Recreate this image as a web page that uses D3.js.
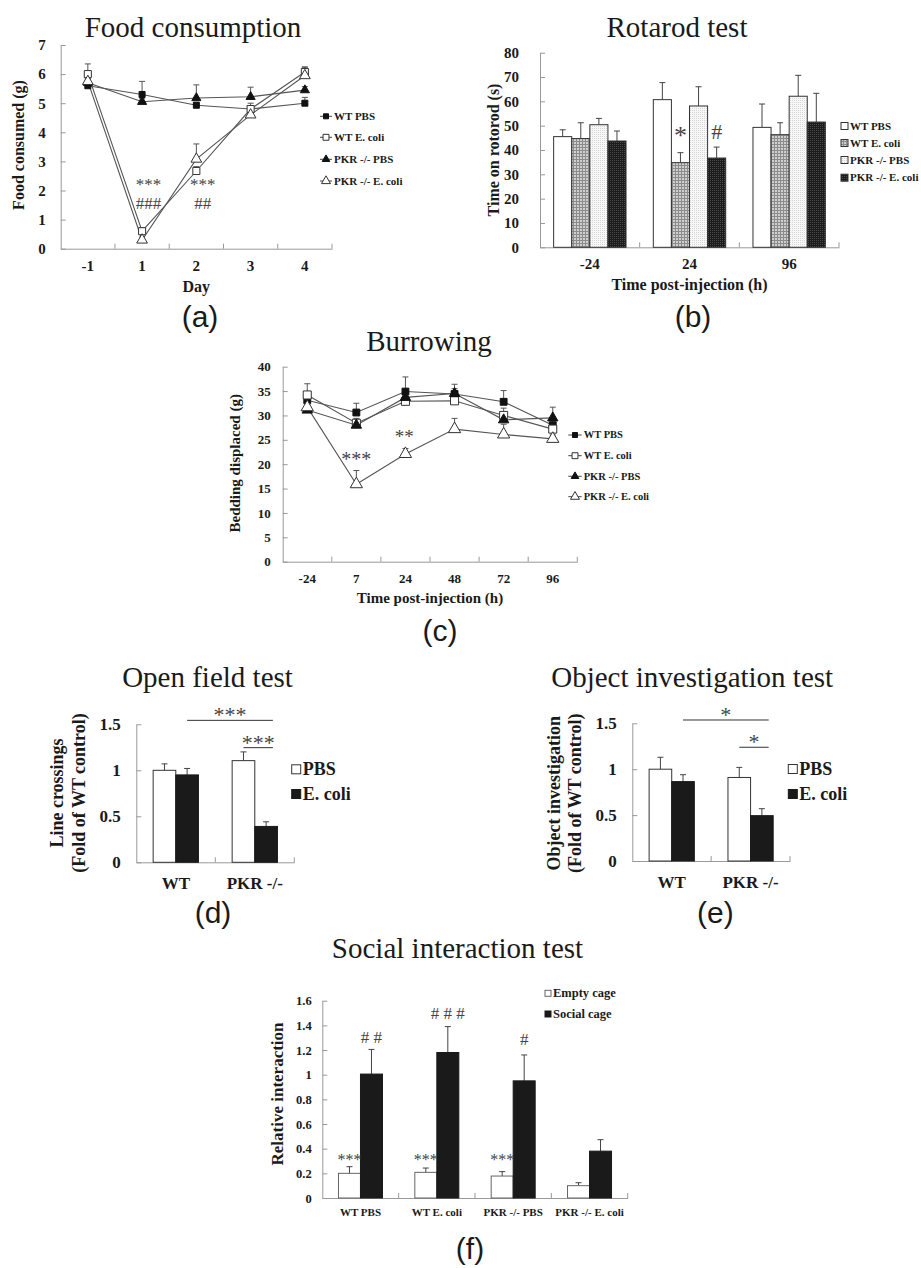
<!DOCTYPE html>
<html>
<head>
<meta charset="utf-8">
<style>
    body { margin: 0; background: #fff; }
    svg { display: block; }
    text { font-family: "Liberation Serif", "Times New Roman", serif; fill: #1a1a1a; }
    .tick text { font-weight: bold; }
    .axis path, .axis line { stroke: #999; }
    .title { font-size: 29px; }
    .lab { font-weight: bold; }
    .letter { font-family: "Liberation Sans", Arial, sans-serif; font-size: 30px; }
    .sig { fill: #444; }
</style>
</head>
<body>
<svg id="fig" width="921" height="1268"></svg>
<script src="https://cdn.jsdelivr.net/npm/d3@7"></script>
<script>
// (a) food consumption
const foodDays = ["-1", "1", "2", "3", "4"]
const foodTicks = [0, 1, 2, 3, 4, 5, 6, 7]
const foodWtPbs = [5.6, 5.3, 4.93, 4.8, 5.0]
const foodWtPbsErr = [0.08, 0.45, 0.1, 0.1, 0.2]
const foodWtEcoli = [6.0, 0.6, 2.67, 4.8, 6.07]
const foodWtEcoliErr = [0.35, 0.12, 0.15, 0.2, 0.15]
const foodPkrPbs = [5.7, 5.05, 5.18, 5.22, 5.45]
const foodPkrPbsErr = [0.1, 0.1, 0.45, 0.33, 0.12]
const foodPkrEcoli = [5.75, 0.3, 3.08, 4.6, 5.95]
const foodPkrEcoliErr = [0.1, 0.1, 0.52, 0.1, 0.3]

// (b) rotarod
const rotaTimes = ["-24", "24", "96"]
const rotaTicks = [0, 10, 20, 30, 40, 50, 60, 70, 80]
const rotaWtPbs = [45.5, 60.7, 49.3]
const rotaWtPbsErr = [2.8, 7.0, 9.6]
const rotaWtEcoli = [44.7, 34.8, 46.3]
const rotaWtEcoliErr = [6.5, 4.1, 4.9]
const rotaPkrPbs = [50.4, 58.1, 62.1]
const rotaPkrPbsErr = [2.6, 7.9, 8.6]
const rotaPkrEcoli = [43.7, 36.7, 51.5]
const rotaPkrEcoliErr = [4.1, 4.5, 11.8]

// (c) burrowing
const burTimes = ["-24", "7", "24", "48", "72", "96"]
const burTicks = [0, 5, 10, 15, 20, 25, 30, 35, 40]
const burWtPbs = [33.1, 30.6, 34.9, 34.4, 32.8, 28.0]
const burWtPbsErr = [1.5, 1.9, 3.0, 2.0, 2.3, 1.2]
const burWtEcoli = [34.2, 28.4, 32.9, 33.0, 30.0, 27.2]
const burWtEcoliErr = [2.3, 1.0, 1.0, 1.0, 1.5, 1.0]
const burPkrPbs = [31.1, 28.0, 33.7, 34.5, 29.1, 29.5]
const burPkrPbsErr = [1.0, 0.8, 1.2, 1.0, 1.0, 2.2]
const burPkrEcoli = [31.7, 15.9, 22.1, 27.2, 26.1, 25.2]
const burPkrEcoliErr = [1.0, 2.8, 1.1, 2.2, 2.1, 0.8]

// (d) open field, (e) object investigation
const genotypes = ["WT", "PKR -/-"]
const foldTicks = [0, 0.5, 1, 1.5]
const openPbs = [1.0, 1.105]
const openPbsErr = [0.07, 0.095]
const openEcoli = [0.95, 0.39]
const openEcoliErr = [0.07, 0.05]
const objPbs = [1.0, 0.91]
const objPbsErr = [0.13, 0.11]
const objEcoli = [0.865, 0.494]
const objEcoliErr = [0.075, 0.076]

// (f) social interaction
const socialGroups = ["WT PBS", "WT E. coli", "PKR -/- PBS", "PKR -/- E. coli"]
const socialTicks = [0, 0.2, 0.4, 0.6, 0.8, 1, 1.2, 1.4, 1.6]
const socialEmpty = [0.2, 0.208, 0.178, 0.1]
const socialEmptyErr = [0.054, 0.035, 0.036, 0.024]
const socialCage = [1.005, 1.18, 0.95, 0.38]
const socialCageErr = [0.2, 0.21, 0.21, 0.093]

const svg = d3.select("#fig")
svg.append("rect").attr("width", 921).attr("height", 1268).attr("fill", "#fff")

// fill patterns for the rotarod bars
const defs = svg.append("defs")
let p = defs.append("pattern").attr("id", "grid").attr("width", 3).attr("height", 3).attr("patternUnits", "userSpaceOnUse")
p.append("rect").attr("width", 3).attr("height", 3).attr("fill", "#cfcfcf")
p.append("path").attr("d", "M0,0.5H3M0.5,0V3").attr("stroke", "#8c8c8c").attr("stroke-width", 1)
p = defs.append("pattern").attr("id", "dots").attr("width", 2).attr("height", 2).attr("patternUnits", "userSpaceOnUse")
p.append("rect").attr("width", 2).attr("height", 2).attr("fill", "#f7f7f7")
p.append("rect").attr("width", 1).attr("height", 1).attr("fill", "#d6d6d6")
p = defs.append("pattern").attr("id", "dark").attr("width", 2).attr("height", 2).attr("patternUnits", "userSpaceOnUse")
p.append("rect").attr("width", 2).attr("height", 2).attr("fill", "#1c1c1c")
p.append("rect").attr("width", 1).attr("height", 1).attr("fill", "#4a4a4a")

const markers = {
    sqFill: { type: d3.symbolSquare, size: 36, fill: "#111", stroke: "#111" },
    sqOpen: { type: d3.symbolSquare, size: 50, fill: "#fff", stroke: "#333" },
    triFill: { type: d3.symbolTriangle, size: 36, fill: "#111", stroke: "#111" },
    triOpen: { type: d3.symbolTriangle, size: 50, fill: "#fff", stroke: "#333" }
}

function text(g, x, y, str, cls, size, anchor) {
    return g.append("text").attr("x", x).attr("y", y).attr("class", cls)
        .attr("font-size", size).attr("text-anchor", anchor || "middle").text(str)
}

// axes in the excel style: inside ticks, x ticks between categories
function axes(g, x, y, c) {
    let ya = g.append("g").attr("class", "axis").attr("transform", `translate(${c.xr[0]},0)`)
        .call(d3.axisLeft(y).tickValues(c.yTicks).tickFormat(d => String(d))
            .tickSizeInner(-5).tickSizeOuter(0).tickPadding(c.yPad))
    ya.attr("font-size", c.tickFs)
    let xa = g.append("g").attr("class", "axis").attr("transform", `translate(0,${c.yr[0]})`)
        .call(d3.axisBottom(x).tickSize(0).tickPadding(c.xPad))
    xa.attr("font-size", c.xFs || c.tickFs)
    xa.selectAll(".edge").data(c.cats.slice(1).map(k => x(k)).concat([c.xr[1]]))
        .join("line").attr("class", "edge")
        .attr("x1", d => d).attr("x2", d => d).attr("y1", 0).attr("y2", -5)

    text(g, c.title[0], c.title[1], c.titleText, "title", 29)
    text(g, c.letter[0], c.letter[1], c.letterText, "letter", 30)
    c.ylab.forEach(l => {
        g.append("text").attr("class", "lab").attr("font-size", c.labFs).attr("text-anchor", "middle")
            .attr("transform", `translate(${l.x},${c.ylabY}) rotate(-90)`).text(l.t)
    })
    if (c.xlab) text(g, (c.xr[0] + c.xr[1]) / 2, c.xlab[1], c.xlab[0], "lab", c.labFs)
}

function drawLines(c) {
    const g = svg.append("g")
    const x = d3.scaleBand().domain(c.cats).range(c.xr)
    const y = d3.scaleLinear().domain(d3.extent(c.yTicks)).range(c.yr)
    axes(g, x, y, c)
    const cx = i => x(c.cats[i]) + x.bandwidth() / 2
    const line = d3.line().x((d, i) => cx(i)).y(d => y(d))
    c.series.forEach(s => {
        g.append("path").datum(s.mean).attr("d", line)
            .attr("fill", "none").attr("stroke", "#555").attr("stroke-width", 1.1)
    })
    c.series.forEach(s => {
        s.mean.forEach((m, i) => {
            const top = y(m + s.err[i])
            g.append("path").attr("d", `M${cx(i)},${y(m)}V${top}M${cx(i) - 3},${top}H${cx(i) + 3}`)
                .attr("stroke", "#555").attr("fill", "none")
        })
    })
    c.series.forEach(s => {
        const mk = markers[s.marker]
        g.selectAll(null).data(s.mean).join("path")
            .attr("transform", (d, i) => `translate(${cx(i)},${y(d)})`)
            .attr("d", d3.symbol(mk.type, mk.size * c.mScale))
            .attr("fill", mk.fill).attr("stroke", mk.stroke)
    })
    // legend
    c.series.forEach((s, i) => {
        const ly = c.legend.y[i], lx = c.legend.x
        const mk = markers[s.marker]
        g.append("line").attr("x1", lx).attr("x2", lx + c.legend.w).attr("y1", ly).attr("y2", ly)
            .attr("stroke", "#444")
        g.append("path").attr("transform", `translate(${lx + c.legend.w / 2},${ly})`)
            .attr("d", d3.symbol(mk.type, mk.size * 0.7)).attr("fill", mk.fill).attr("stroke", mk.stroke)
        text(g, lx + c.legend.w + 2, ly + c.legend.fs * 0.33, s.name, "lab", c.legend.fs, "start")
    })
    c.notes.forEach(n => {
        text(g, cx(c.cats.indexOf(n.cat)) + (n.dx || 0), y(n.v), n.t, "sig", n.fs)
    })
}

function drawBars(c) {
    const g = svg.append("g")
    const x = d3.scaleBand().domain(c.cats).range(c.xr)
    const xi = d3.scaleBand().domain(c.series.map(s => s.name)).range([0, x.bandwidth()]).paddingOuter(c.outer)
    const y = d3.scaleLinear().domain(d3.extent(c.yTicks)).range(c.yr)
    axes(g, x, y, c)
    const bw = xi.bandwidth()
    c.series.forEach(s => {
        s.mean.forEach((m, i) => {
            const bx = x(c.cats[i]) + xi(s.name)
            const top = y(m + s.err[i]), mx = bx + bw / 2
            g.append("path").attr("d", `M${mx},${y(m)}V${top}M${mx - 3},${top}H${mx + 3}`)
                .attr("stroke", "#444").attr("fill", "none")
            g.append("rect").attr("x", bx).attr("y", y(m)).attr("width", bw).attr("height", y(0) - y(m))
                .attr("fill", s.fill).attr("stroke", s.stroke || "#333").attr("stroke-width", 1)
        })
    })
    c.series.forEach((s, i) => {
        const ly = c.legend.y[i], sz = c.legend.sz
        g.append("rect").attr("x", c.legend.x).attr("y", ly - sz / 2).attr("width", sz).attr("height", sz)
            .attr("fill", s.fill).attr("stroke", s.stroke || "#333")
        text(g, c.legend.x + sz + 2, ly + c.legend.fs * 0.33, s.name, "lab", c.legend.fs, "start")
    })
    const at = (k, name, f) => x(k) + xi(name) + bw * f
    ;(c.notes || []).forEach(n => {
        text(g, at(n.cat, n.ser, 0.5), y(n.v), n.t, "sig", n.fs)
    })
    ;(c.brackets || []).forEach(b => {
        const x1 = at(b.from[0], b.from[1], 0.5), x2 = at(b.to[0], b.to[1], 0.8)
        g.append("line").attr("x1", x1).attr("x2", x2).attr("y1", y(b.v)).attr("y2", y(b.v))
            .attr("stroke", "#333")
        text(g, (x1 + x2) / 2, y(b.v) + 2, b.t, "sig", b.fs)
    })
}

drawLines({
    cats: foodDays, yTicks: foodTicks, xr: [60.7, 332], yr: [248.7, 45],
    yPad: 15, xPad: 11.5, tickFs: 15, labFs: 16, mScale: 1,
    titleText: "Food consumption", title: [193, 37], letterText: "(a)", letter: [200, 327],
    ylab: [{ t: "Food consumed (g)", x: 23.5 }], ylabY: 145, xlab: ["Day", 291.5],
    series: [
        { name: "WT PBS", mean: foodWtPbs, err: foodWtPbsErr, marker: "sqFill" },
        { name: "WT E. coli", mean: foodWtEcoli, err: foodWtEcoliErr, marker: "sqOpen" },
        { name: "PKR -/- PBS", mean: foodPkrPbs, err: foodPkrPbsErr, marker: "triFill" },
        { name: "PKR -/- E. coli", mean: foodPkrEcoli, err: foodPkrEcoliErr, marker: "triOpen" }
    ],
    legend: { x: 320, w: 12, y: [116.3, 137.3, 159.3, 181], fs: 11 },
    notes: [
        { cat: "1", v: 2.02, t: "***", fs: 17, dx: 6.5 },
        { cat: "1", v: 1.37, t: "###", fs: 17, dx: 6.5 },
        { cat: "2", v: 2.02, t: "***", fs: 17, dx: 6.5 },
        { cat: "2", v: 1.37, t: "##", fs: 17, dx: 6.5 }
    ]
})

drawBars({
    cats: rotaTimes, yTicks: rotaTicks, xr: [540, 839], yr: [247.3, 52.7], outer: 0.754,
    yPad: 21, xPad: 11, tickFs: 15, labFs: 16,
    titleText: "Rotarod test", title: [677, 37], letterText: "(b)", letter: [693, 327],
    ylab: [{ t: "Time on rotorod (s)", x: 499 }], ylabY: 150, xlab: ["Time post-injection (h)", 289.5],
    series: [
        { name: "WT PBS", mean: rotaWtPbs, err: rotaWtPbsErr, fill: "#fff" },
        { name: "WT E. coli", mean: rotaWtEcoli, err: rotaWtEcoliErr, fill: "url(#grid)" },
        { name: "PKR -/- PBS", mean: rotaPkrPbs, err: rotaPkrPbsErr, fill: "url(#dots)" },
        { name: "PKR -/- E. coli", mean: rotaPkrEcoli, err: rotaPkrEcoliErr, fill: "url(#dark)" }
    ],
    legend: { x: 841, sz: 7, y: [126, 143, 160, 177.7], fs: 11 },
    notes: [
        { cat: "24", ser: "WT E. coli", v: 42.3, t: "*", fs: 26 },
        { cat: "24", ser: "PKR -/- E. coli", v: 44.7, t: "#", fs: 22 }
    ]
})

drawLines({
    cats: burTimes, yTicks: burTicks, xr: [282.7, 577.3], yr: [561.7, 366.7],
    yPad: 12, xPad: 12, tickFs: 13, labFs: 15, mScale: 1.3,
    titleText: "Burrowing", title: [429, 351], letterText: "(c)", letter: [440, 641],
    ylab: [{ t: "Bedding displaced (g)", x: 240 }], ylabY: 463.3, xlab: ["Time post-injection (h)", 603],
    series: [
        { name: "WT PBS", mean: burWtPbs, err: burWtPbsErr, marker: "sqFill" },
        { name: "WT E. coli", mean: burWtEcoli, err: burWtEcoliErr, marker: "sqOpen" },
        { name: "PKR -/- PBS", mean: burPkrPbs, err: burPkrPbsErr, marker: "triFill" },
        { name: "PKR -/- E. coli", mean: burPkrEcoli, err: burPkrEcoliErr, marker: "triOpen" }
    ],
    legend: { x: 568.3, w: 13.4, y: [435, 455.7, 476.3, 496.7], fs: 10.5 },
    notes: [
        { cat: "7", v: 19.7, t: "***", fs: 20 },
        { cat: "24", v: 24.3, t: "**", fs: 19, dx: -1.3 }
    ]
})

drawBars({
    cats: genotypes, yTicks: foldTicks, xr: [136.3, 294.3], yr: [862.3, 724.3], outer: 0.744,
    yPad: 15.6, xPad: 15, tickFs: 17, labFs: 18,
    titleText: "Open field test", title: [207.5, 686.7], letterText: "(d)", letter: [213, 923],
    ylab: [{ t: "Line crossings", x: 63 }, { t: "(Fold of WT control)", x: 84.6 }], ylabY: 793,
    series: [
        { name: "PBS", mean: openPbs, err: openPbsErr, fill: "#fff" },
        { name: "E. coli", mean: openEcoli, err: openEcoliErr, fill: "#1a1a1a", stroke: "#1a1a1a" }
    ],
    legend: { x: 291.7, sz: 9, y: [769.3, 794], fs: 18 },
    brackets: [
        { from: ["WT", "E. coli"], to: ["PKR -/-", "E. coli"], v: 1.543, t: "***", fs: 22 },
        { from: ["PKR -/-", "PBS"], to: ["PKR -/-", "E. coli"], v: 1.246, t: "***", fs: 22 }
    ]
})

drawBars({
    cats: genotypes, yTicks: foldTicks, xr: [632.3, 790], yr: [861, 723.3], outer: 0.744,
    yPad: 15.6, xPad: 15, tickFs: 17, labFs: 18,
    titleText: "Object investigation test", title: [692.2, 686.7], letterText: "(e)", letter: [715.3, 923],
    ylab: [{ t: "Object investigation", x: 559.6 }, { t: "(Fold of WT control)", x: 581.3 }], ylabY: 793.3,
    series: [
        { name: "PBS", mean: objPbs, err: objPbsErr, fill: "#fff" },
        { name: "E. coli", mean: objEcoli, err: objEcoliErr, fill: "#1a1a1a", stroke: "#1a1a1a" }
    ],
    legend: { x: 788.3, sz: 9, y: [769, 794], fs: 18 },
    brackets: [
        { from: ["WT", "E. coli"], to: ["PKR -/-", "E. coli"], v: 1.536, t: "*", fs: 22 },
        { from: ["PKR -/-", "PBS"], to: ["PKR -/-", "E. coli"], v: 1.239, t: "*", fs: 22 }
    ]
})

drawBars({
    cats: socialGroups, yTicks: socialTicks, xr: [322.3, 627.7], yr: [1198, 1000.7], outer: 0.735,
    yPad: 10.6, xPad: 9.7, tickFs: 12.5, xFs: 11, labFs: 17,
    titleText: "Social interaction test", title: [457.5, 958.3], letterText: "(f)", letter: [470, 1259],
    ylab: [{ t: "Relative interaction", x: 282.6 }], ylabY: 1094,
    series: [
        { name: "Empty cage", mean: socialEmpty, err: socialEmptyErr, fill: "#fff", stroke: "#666" },
        { name: "Social cage", mean: socialCage, err: socialCageErr, fill: "#1a1a1a", stroke: "#1a1a1a" }
    ],
    legend: { x: 545, sz: 6, y: [993.3, 1014], fs: 12.5 },
    notes: [
        { cat: "WT PBS", ser: "Empty cage", v: 0.27, t: "***", fs: 16 },
        { cat: "WT E. coli", ser: "Empty cage", v: 0.27, t: "***", fs: 16 },
        { cat: "PKR -/- PBS", ser: "Empty cage", v: 0.27, t: "***", fs: 16 },
        { cat: "WT PBS", ser: "Social cage", v: 1.26, t: "# #", fs: 17 },
        { cat: "WT E. coli", ser: "Social cage", v: 1.448, t: "# # #", fs: 17 },
        { cat: "PKR -/- PBS", ser: "Social cage", v: 1.24, t: "#", fs: 17 }
    ]
})
</script>
</body>
</html>
